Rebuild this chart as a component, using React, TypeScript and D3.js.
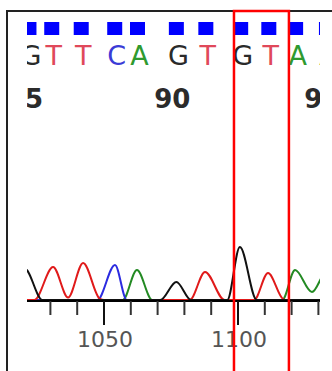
import * as d3 from 'd3';
import { useEffect, useRef } from 'react';

// base calls shown in the window (base number, call, trace position)
const baseNumbers = [85, 86, 87, 88, 89, 90, 91, 92, 93, 94, 95];
const baseCalls = ['G', 'T', 'T', 'C', 'A', 'G', 'T', 'G', 'T', 'A', 'A'];
const basePositions = [1022, 1030.5, 1041.5, 1054, 1062.5, 1077, 1088, 1101, 1111.5, 1121.5, 1133];
const baseQuality = [40, 40, 40, 40, 40, 40, 40, 40, 40, 40, 40];

// trace points per channel: [trace position, signal]
const traceG = [[1016, 500], [1020.5, 620], [1027, 0], [1071, 0], [1077, 360], [1082.5, 0], [1096, 0], [1100.7, 1060], [1107, 0], [1135, 0]];
const traceT = [[1016, 0], [1024, 0], [1031, 660], [1036.6, 50], [1042.2, 740], [1048.5, 20], [1050, 0], [1082, 0], [1087.7, 560], [1095, 0], [1106, 0], [1111.2, 540], [1116.8, 20], [1118, 0], [1135, 0]];
const traceC = [[1016, 0], [1047.5, 0], [1054.1, 700], [1058.5, 0], [1135, 0]];
const traceA = [[1016, 0], [1057, 0], [1062.3, 600], [1068, 0], [1116.5, 0], [1121.3, 600], [1127.6, 160], [1133, 560], [1135, 120]];

const axisTicks = [1030, 1040, 1050, 1060, 1070, 1080, 1090, 1100, 1110, 1120, 1130];
const axisLabels = [1050, 1100];
const highlightRange = [1098.5, 1119];

const baseColors: any = { A: '#2f9a2f', C: '#3b3bd6', G: '#2a2a2a', T: '#e0485a' };
const traceColors: any = { A: '#238a23', C: '#2b2be0', G: '#111111', T: '#e01a1a' };

export default function App() {
    const ref = useRef<any>();

    useEffect(() => {
        const width = 332;
        const height = 371;
        const left = 27;
        const right = 320;
        const baseline = 300;

        const svg = d3.select<any, any>(ref.current)
            .attr('width', width)
            .attr('height', height);
        svg.selectAll('*').remove();

        svg.append('rect').attr('width', width).attr('height', height).attr('fill', 'white');

        const xScale = d3.scaleLinear().domain([1050, 1100]).range([104, 238]);
        const yScale = d3.scaleLinear().domain([0, 1000]).range([baseline, baseline - 50]);
        const qScale = d3.scaleLinear().domain([0, 40]).range([0, 13]);

        svg.append('clipPath').attr('id', 'view')
            .append('rect')
            .attr('x', left).attr('y', 0)
            .attr('width', right - left).attr('height', height);

        const stage = svg.append('g').attr('clip-path', 'url(#view)');

        //quality squares
        stage.selectAll('.qual').data(baseQuality).join('rect')
            .attr('class', 'qual')
            .attr('x', (d, i) => xScale(basePositions[i]) - 7.5)
            .attr('y', (d) => 35 - qScale(d))
            .attr('width', 15)
            .attr('height', (d) => qScale(d))
            .attr('fill', '#0000ff');

        //base calls
        stage.selectAll('.call').data(baseCalls).join('text')
            .attr('class', 'call')
            .attr('x', (d, i) => xScale(basePositions[i]) + 2)
            .attr('y', 65)
            .attr('text-anchor', 'middle')
            .attr('font-family', 'DejaVu Sans')
            .attr('font-size', 27)
            .attr('fill', (d) => baseColors[d])
            .text((d) => d);

        //base numbers every 5
        const numbered = baseNumbers.map((n, i) => ({ n, pos: basePositions[i] })).filter((d) => d.n % 5 === 0);
        stage.selectAll('.num').data(numbered).join('text')
            .attr('class', 'num')
            .attr('x', (d) => xScale(d.pos) - 4)
            .attr('y', 108)
            .attr('text-anchor', 'middle')
            .attr('font-family', 'DejaVu Sans')
            .attr('font-weight', 'bold')
            .attr('font-size', 26)
            .attr('fill', '#2b2b2b')
            .text((d) => d.n);

        //traces
        const line = d3.line<any>()
            .x((d) => xScale(d[0]))
            .y((d) => yScale(d[1]))
            .curve(d3.curveMonotoneX);

        const traces = [
            { key: 'A', points: traceA },
            { key: 'C', points: traceC },
            { key: 'T', points: traceT },
            { key: 'G', points: traceG },
        ];
        stage.selectAll('.trace').data(traces).join('path')
            .attr('class', 'trace')
            .attr('d', (d) => line(d.points))
            .attr('fill', 'none')
            .attr('stroke', (d) => traceColors[d.key])
            .attr('stroke-width', 2);

        //axis
        stage.append('line')
            .attr('x1', left).attr('x2', right)
            .attr('y1', baseline + 1).attr('y2', baseline + 1)
            .attr('stroke', 'black')
            .attr('stroke-width', 2);

        stage.selectAll('.tick').data(axisTicks).join('line')
            .attr('class', 'tick')
            .attr('x1', (d) => xScale(d)).attr('x2', (d) => xScale(d))
            .attr('y1', baseline + 1)
            .attr('y2', (d) => axisLabels.includes(d) ? baseline + 25 : baseline + 15)
            .attr('stroke', (d) => axisLabels.includes(d) ? '#111' : '#333')
            .attr('stroke-width', 2);

        stage.selectAll('.tick-label').data(axisLabels).join('text')
            .attr('class', 'tick-label')
            .attr('x', (d) => xScale(d) + 1)
            .attr('y', 347)
            .attr('text-anchor', 'middle')
            .attr('font-family', 'DejaVu Sans')
            .attr('font-size', 22)
            .attr('fill', '#555')
            .text((d) => d);

        //frame
        svg.append('rect')
            .attr('x', 7).attr('y', 11)
            .attr('width', 400).attr('height', 400)
            .attr('fill', 'none')
            .attr('stroke', '#222')
            .attr('stroke-width', 2);

        //highlighted window
        svg.append('rect')
            .attr('x', xScale(highlightRange[0]))
            .attr('y', 11)
            .attr('width', xScale(highlightRange[1]) - xScale(highlightRange[0]))
            .attr('height', 400)
            .attr('fill', 'none')
            .attr('stroke', '#ff0000')
            .attr('stroke-width', 2.5);
    });

    return (
        <svg ref={ref} style={{ position: 'absolute', left: 0, top: 0 }}></svg>
    );
}
